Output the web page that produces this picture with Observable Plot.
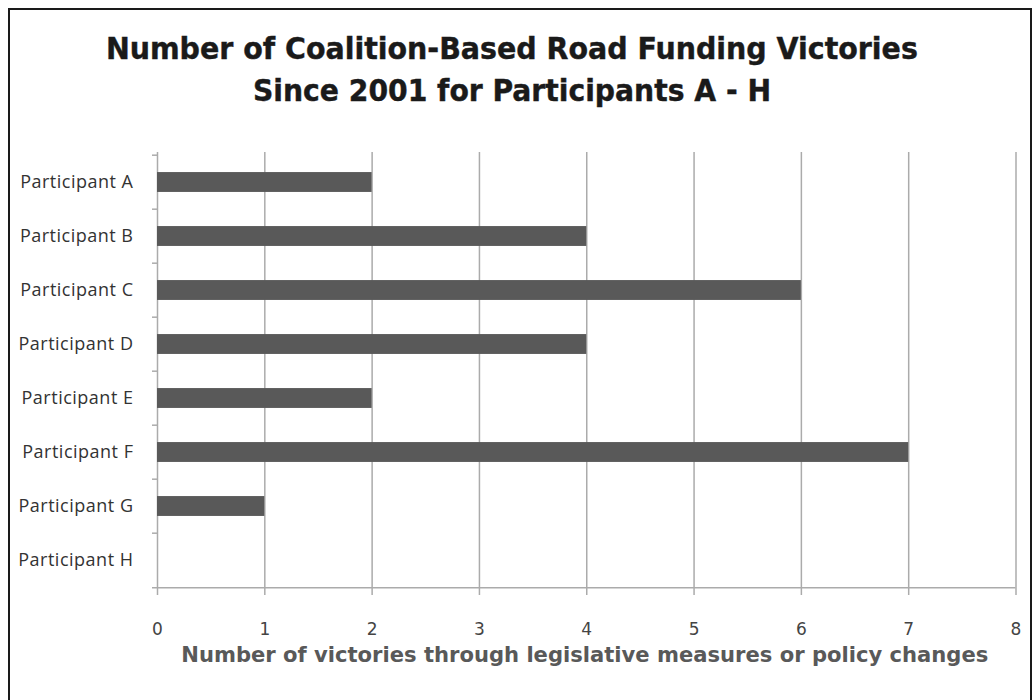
<!DOCTYPE html>
<html><head><meta charset="utf-8">
<script src="https://cdn.jsdelivr.net/npm/d3@7"></script>
<script src="https://cdn.jsdelivr.net/npm/@observablehq/plot@0.6"></script>
<style>
body{margin:0;background:#fff;}
#wrap{position:relative;width:1034px;height:700px;overflow:hidden;background:#fff;}
#border{position:absolute;left:8px;top:8px;width:1020px;height:700px;border:2.5px solid #1a1a1a;box-sizing:content-box;}
#title{position:absolute;left:0;top:0;width:1024px;height:130px;}
.tl{position:absolute;left:0;width:1024px;text-align:center;white-space:nowrap;font-family:"DejaVu Sans Condensed","DejaVu Sans",sans-serif;font-weight:bold;font-size:31px;line-height:31px;color:#1a1a1a;}
.tl span{display:inline-block;transform-origin:50% 50%;-webkit-text-stroke:0.4px #1a1a1a;}
#chart{position:absolute;left:0;top:130px;}
</style></head>
<body>
<div id="wrap">
  <div id="border"></div>
  <div id="title"></div>
  <div id="chart"></div>
</div>
<script>
const participants = ["Participant A","Participant B","Participant C","Participant D","Participant E","Participant F","Participant G","Participant H"];
const victories = [2, 4, 6, 4, 2, 7, 1, 0];
const xTicks = [0, 1, 2, 3, 4, 5, 6, 7, 8];
const titleLines = ["Number of Coalition-Based Road Funding Victories", "Since 2001 for Participants A - H"];
const xLabel = "Number of victories through legislative measures or policy changes";

const data = participants.map((name, i) => ({name, value: victories[i]}));

// Title
const titleTops = [32.8, 74.8];
const titleWidths = [812, 518];
const titleEl = document.getElementById("title");
titleLines.forEach((t, i) => {
  const div = document.createElement("div");
  div.className = "tl";
  div.style.top = titleTops[i] + "px";
  const span = document.createElement("span");
  span.textContent = t;
  div.appendChild(span);
  titleEl.appendChild(div);
  const w = span.getBoundingClientRect().width;
  span.style.transform = `scaleX(${titleWidths[i] / w})`;
});

const W = 1034, H = 570, mT = 22, mB = 111;
const bw = (H - mT - mB) / participants.length;
const gray = "#ababab";

const chart = Plot.plot({
  width: W, height: H,
  marginLeft: 157, marginRight: 18.5, marginTop: mT, marginBottom: mB,
  style: {background: "transparent", fontFamily: "DejaVu Sans", overflow: "visible"},
  x: {domain: [0, 8]},
  y: {domain: participants, padding: 0},
  marks: [
    Plot.gridX(xTicks, {stroke: gray, strokeOpacity: 1, strokeWidth: 1.5}),
    Plot.ruleY([participants[participants.length - 1]], {x1: 0, x2: 8, dy: bw / 2, insetLeft: -5, stroke: gray, strokeWidth: 1.5}),
    Plot.axisY({tickSize: 5, tickFormat: () => "", dy: -bw / 2, stroke: gray, strokeWidth: 1.5, label: null}),
    Plot.axisY({tickSize: 0, tickPadding: 24, fontSize: 18, fontFamily: "Open Sans", fill: "#333", label: null}),
    Plot.axisX(xTicks, {tickSize: 6, tickPadding: 27, fontSize: 17, fill: "#444", stroke: gray, strokeWidth: 1.5, label: null}),
    Plot.barX(data, {x: "value", y: "name", fill: "#595959", insetTop: (bw - 20.5) / 2, insetBottom: (bw - 20.5) / 2}),
    Plot.text([xLabel], {frameAnchor: "bottom", text: d => d, dy: 72.6, dx: -2, fontSize: 20.5, fontWeight: "bold", fill: "#595959"})
  ]
});
document.getElementById("chart").appendChild(chart);

// fine styling
d3.select(chart).selectAll('g[aria-label="y-axis tick label"] text').style("letter-spacing", "0.5px");
d3.select(chart).selectAll('g[aria-label="text"] text')
  .attr("textLength", 807).attr("lengthAdjust", "spacingAndGlyphs");
</script>
</body></html>
